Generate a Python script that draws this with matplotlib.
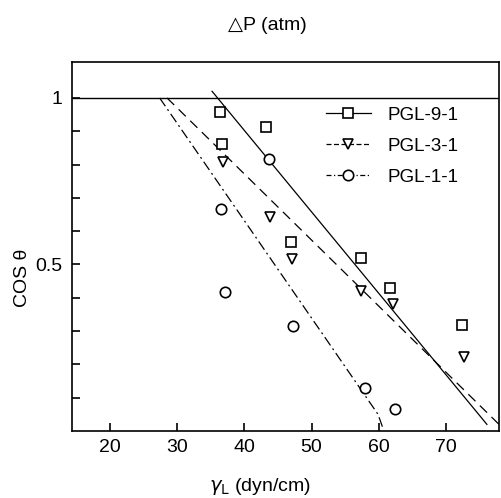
import matplotlib
matplotlib.use("Agg")
import matplotlib.pyplot as plt
from matplotlib.lines import Line2D

plt.rcParams['font.family'] = ['Liberation Sans', 'DejaVu Sans']

# measured points (gamma_L, cos theta)
pgl91_x = [36.4, 43.2, 36.7, 46.9, 57.3, 61.7, 72.4]
pgl91_y = [0.958, 0.913, 0.861, 0.569, 0.518, 0.428, 0.319]

pgl31_x = [36.8, 43.8, 47.1, 57.3, 62.1, 72.7]
pgl31_y = [0.807, 0.642, 0.515, 0.419, 0.380, 0.223]

pgl11_x = [43.7, 36.5, 37.1, 47.2, 57.9, 62.4]
pgl11_y = [0.816, 0.666, 0.416, 0.316, 0.130, 0.066]

# fitted lines
fit91_x = [35.2, 76.1]
fit91_y = [1.02, 0.02]
fit31_x = [28.5, 77.9]
fit31_y = [1.0, 0.02]
fit11_x = [27.4, 59.9, 60.6]
fit11_y = [1.0, 0.05, 0.01]

fig = plt.figure(figsize=(5.02, 4.98), dpi=100)
ax = fig.add_axes([0.1434, 0.1345, 0.8506, 0.741])

ax.plot(fit91_x, fit91_y, color='black', lw=0.9, ls='-')
ax.plot(fit31_x, fit31_y, color='black', lw=0.9, ls=(0, (8, 5)))
ax.plot(fit11_x, fit11_y, color='black', lw=0.9, ls=(0, (8, 3, 1.5, 3)))

mk = dict(ls='none', mfc='white', mec='black', ms=7.5, mew=1.2, color='black')
ax.plot(pgl91_x, pgl91_y, marker='s', **mk)
ax.plot(pgl31_x, pgl31_y, marker='v', **mk)
ax.plot(pgl11_x, pgl11_y, marker='o', **mk)

ax.axhline(1.0, color='black', lw=1.0)

ax.set_xlim(14.35, 77.9)
ax.set_ylim(0, 1.108)
ax.set_xticks([20, 30, 40, 50, 60, 70])
ax.set_yticks([0.5, 1.0])
ax.set_yticklabels(['0.5', '1'])
ax.set_yticks([0.1, 0.2, 0.3, 0.4, 0.6, 0.7, 0.8, 0.9], minor=True)
ax.tick_params(axis='both', which='both', direction='in', labelsize=14, width=1.2)
ax.tick_params(axis='both', which='major', length=6)
ax.tick_params(axis='y', which='minor', length=6)
ax.tick_params(axis='x', pad=6)
ax.tick_params(axis='y', pad=7)
for s in ax.spines.values():
    s.set_linewidth(1.2)

ax.set_xlabel(r'$\gamma_{\rm L}$ (dyn/cm)', fontsize=14, va='center')
ax.xaxis.set_label_coords(0.44, -0.149)
ax.set_ylabel('COS θ', fontsize=14, va='center')
ax.yaxis.set_label_coords(-0.117, 0.415)
ax.text(0.457, 1.1, '△P (atm)', transform=ax.transAxes, ha='center', va='center', fontsize=14)

handles = [
    Line2D([], [], color='black', lw=0.9, ls='-', marker='s', mfc='white', mec='black', ms=7.5, mew=1.2),
    Line2D([], [], color='black', lw=0.9, ls=(0, (4, 2)), marker='v', mfc='white', mec='black', ms=7.5, mew=1.2),
    Line2D([], [], color='black', lw=0.9, ls=(0, (4, 2, 1, 2)), marker='o', mfc='white', mec='black', ms=7.5, mew=1.2),
]
ax.legend(handles, ['PGL-9-1', 'PGL-3-1', 'PGL-1-1'], loc='upper left',
          bbox_to_anchor=(0.555, 0.925), frameon=False, fontsize=13.5,
          handlelength=2.4, labelspacing=0.75, handletextpad=0.9)

fig.savefig('out.png', dpi=100)
